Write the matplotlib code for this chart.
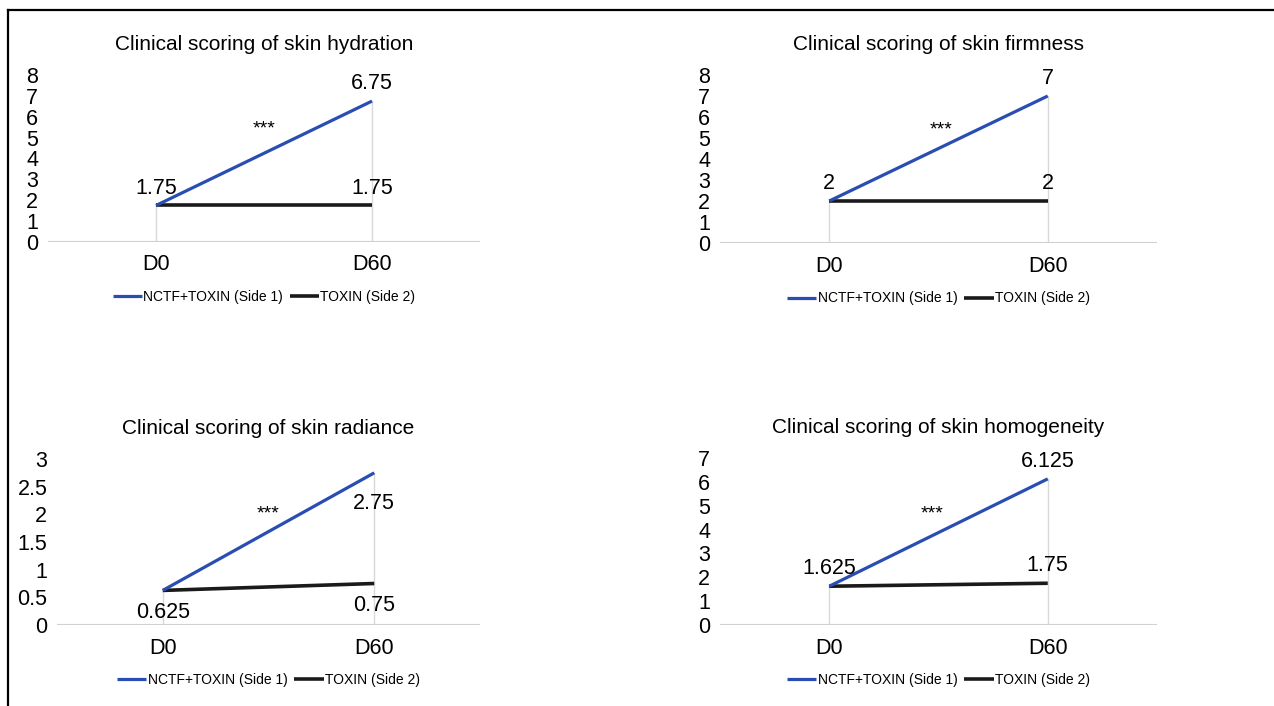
import matplotlib
matplotlib.use("Agg")
import matplotlib.pyplot as plt
from matplotlib.lines import Line2D
from matplotlib.ticker import FuncFormatter

plt.rcParams["font.family"] = ["Liberation Sans", "DejaVu Sans"]

days = ["D0", "D60"]
series_names = ["NCTF+TOXIN (Side 1)", "TOXIN (Side 2)"]

hydration_nctf = [1.75, 6.75]
hydration_toxin = [1.75, 1.75]
firmness_nctf = [2, 7]
firmness_toxin = [2, 2]
radiance_nctf = [0.625, 2.75]
radiance_toxin = [0.625, 0.75]
homogeneity_nctf = [1.625, 6.125]
homogeneity_toxin = [1.625, 1.75]

BLUE = "#2a4db3"
BLACK = "#1a1a1a"
W, H = 1274, 706


def px_axes(fig, left, right, top, bottom):
    return fig.add_axes([left / W, 1 - bottom / H, (right - left) / W, (bottom - top) / H])


def draw_panel(ax, title, nctf, toxin, ymax, ystep, star_xy, below=False):
    xs = list(range(len(days)))
    # drop lines from the axis up to the highest point
    for x in xs:
        ax.plot([x, x], [0, max(nctf[x], toxin[x])], color="#d9d9d9", lw=1, zorder=1)
    ax.axhline(0, color="#d0d0d0", lw=1.5, zorder=1)
    ax.plot(xs, nctf, color=BLUE, lw=2.3, solid_capstyle="butt", label=series_names[0], zorder=3)
    ax.plot(xs, toxin, color=BLACK, lw=2.6, solid_capstyle="butt", label=series_names[1], zorder=2)

    dy = -16 if below else 12.5
    for x in xs:
        vals = [nctf[x]] if nctf[x] == toxin[x] else [nctf[x], toxin[x]]
        for v in vals:
            off = dy - 6 if (below and v == nctf[x] and nctf[x] != toxin[x]) else dy
            ax.annotate(f"{v:g}", (x, v), xytext=(0, off), textcoords="offset points",
                        ha="center", va="center", fontsize=15.5)
    ax.text(star_xy[0], star_xy[1], "***", ha="center", va="center", fontsize=14)

    ax.set_xlim(-0.5, 1.5)
    ax.set_ylim(0, ymax)
    n = int(round(ymax / ystep))
    ax.set_yticks([i * ystep for i in range(n + 1)])
    ax.yaxis.set_major_formatter(FuncFormatter(lambda v, p: f"{v:g}"))
    ax.set_xticks(xs)
    ax.set_xticklabels(days)
    ax.tick_params(axis="y", length=0, labelsize=15.5, pad=7)
    ax.tick_params(axis="x", length=0, labelsize=15.5, pad=9)
    for s in ax.spines.values():
        s.set_visible(False)
    ax.set_title(title, fontsize=15, pad=18)
    ax.legend(loc="center", bbox_to_anchor=(0.5, -0.33), ncol=2, frameon=False,
              fontsize=10, handlelength=2.1, handletextpad=0.1, columnspacing=0.5)


fig = plt.figure(figsize=(W / 100, H / 100), dpi=100)

ax1 = px_axes(fig, 48, 480, 75, 242)
draw_panel(ax1, "Clinical scoring of skin hydration", hydration_nctf, hydration_toxin, 8, 1, (0.5, 5.4))
ax2 = px_axes(fig, 720, 1157, 75, 243)
draw_panel(ax2, "Clinical scoring of skin firmness", firmness_nctf, firmness_toxin, 8, 1, (0.51, 5.4))
ax3 = px_axes(fig, 57, 480, 459, 625)
draw_panel(ax3, "Clinical scoring of skin radiance", radiance_nctf, radiance_toxin, 3, 0.5, (0.5, 2.0), below=True)
ax4 = px_axes(fig, 720, 1157, 458, 625)
draw_panel(ax4, "Clinical scoring of skin homogeneity", homogeneity_nctf, homogeneity_toxin, 7, 1, (0.47, 4.65))

# frame lines (top and left)
fig.add_artist(Line2D([8 / W, 1], [1 - 10 / H, 1 - 10 / H], transform=fig.transFigure, color="black", lw=1.6))
fig.add_artist(Line2D([8 / W, 8 / W], [0, 1 - 10 / H], transform=fig.transFigure, color="black", lw=1.6))

fig.savefig("out.png", dpi=100)
